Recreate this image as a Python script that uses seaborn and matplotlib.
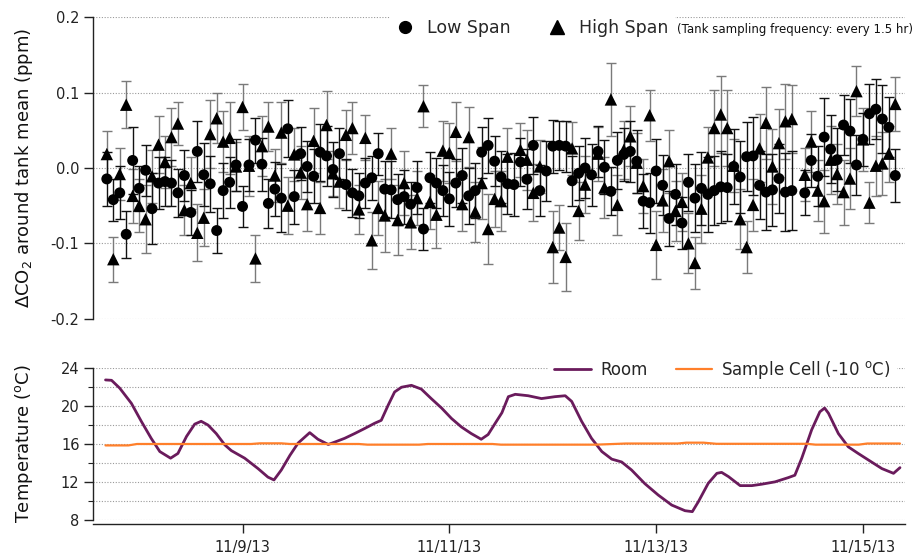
import numpy as np
import pandas as pd
import matplotlib
matplotlib.use("Agg")
import matplotlib.pyplot as plt
import matplotlib.dates as mdates
from matplotlib.lines import Line2D
from matplotlib.ticker import MultipleLocator
import seaborn as sns

nan = np.nan

# ---------------- data ----------------
start_time = "2013-11-07 16:30"   # first tank sample
sample_step = "90min"             # every 1.5 hr

low_span = [
    -0.0145, -0.042, -0.033, -0.088, 0.010, -0.027, -0.003, -0.054, -0.020, -0.018,
    -0.020, -0.033, -0.010, -0.059, 0.022, -0.009, -0.021, -0.083, -0.030, -0.019,
    0.004, -0.051, 0.004, 0.037, 0.005, -0.047, -0.028, -0.040, 0.052, -0.038,
    0.019, 0.002, -0.011, 0.021, 0.016, -0.002, 0.019, -0.022, -0.033, -0.037,
    -0.020, -0.013, 0.019, -0.028, -0.029, -0.042, -0.038, -0.048, -0.026, -0.081,
    -0.013, -0.020, -0.030, -0.041, -0.020, -0.010, -0.037, -0.030, 0.021, 0.030,
    0.009, -0.012, -0.021, -0.022, 0.008, -0.015, 0.030, -0.030, -0.004, 0.029,
    0.030, 0.029, -0.017, -0.007, 0.000, -0.009, 0.022, 0.001, -0.031, 0.010,
    0.018, 0.022, 0.009, -0.044, -0.046, -0.004, -0.023, -0.067, -0.035, -0.073,
    -0.019, -0.040, -0.027, -0.035, -0.030, -0.025, -0.026, 0.002, -0.012, 0.015,
    0.016, -0.023, -0.032, -0.029, -0.014, -0.032, -0.030, nan, -0.033, 0.010,
    -0.011, 0.041, 0.025, 0.011, 0.057, 0.049, 0.004, 0.038, 0.072, 0.078,
    0.065, 0.054, -0.010,
]
high_span = [
    0.0185, -0.121, -0.008, 0.084, -0.037, -0.050, -0.068, -0.011, 0.031, 0.008,
    0.041, 0.059, -0.056, -0.020, -0.086, -0.066, 0.045, 0.066, 0.035, 0.040,
    0.002, 0.081, 0.003, -0.120, 0.029, 0.055, -0.010, 0.047, -0.050, 0.018,
    -0.006, -0.048, 0.036, -0.053, 0.057, -0.007, -0.018, 0.044, 0.053, -0.055,
    0.040, -0.096, -0.053, -0.063, 0.019, -0.069, -0.020, -0.072, -0.040, 0.082,
    -0.045, -0.062, 0.023, 0.020, 0.048, -0.048, 0.041, -0.058, -0.020, -0.081,
    -0.041, -0.044, 0.015, nan, 0.024, 0.011, -0.033, 0.002, nan, -0.105,
    -0.079, -0.118, 0.026, -0.057, -0.022, nan, 0.019, -0.026, 0.091, -0.049,
    0.024, 0.042, 0.007, -0.024, 0.070, -0.102, -0.043, 0.009, -0.057, -0.045,
    -0.100, -0.126, -0.054, 0.014, 0.053, 0.071, 0.053, 0.003, -0.068, -0.105,
    -0.049, 0.026, 0.060, 0.002, 0.033, 0.062, 0.065, nan, -0.009, 0.035,
    -0.030, -0.044, 0.011, -0.008, -0.032, -0.014, 0.102, 0.038, -0.046, 0.003,
    0.006, 0.019, 0.085,
]
low_err = [
    0.036, 0.028, 0.035, 0.031, 0.044, 0.030, 0.034, 0.047, 0.035, 0.033, 0.030,
    0.032, 0.034, 0.030, 0.040, 0.042, 0.037, 0.030, 0.036, 0.034, 0.035,
    0.027, 0.035, 0.030, 0.035, 0.032, 0.036, 0.045, 0.038, 0.036, 0.035,
    0.034, 0.036, 0.038, 0.040, 0.037, 0.034, 0.034, 0.032, 0.030, 0.033,
    0.029, 0.028, 0.037, 0.038, 0.034, 0.036, 0.030, 0.035, 0.028, 0.034,
    0.033, 0.034, 0.036, 0.032, 0.036, 0.037, 0.036, 0.034, 0.037, 0.033,
    0.035, 0.040, 0.042, 0.032, 0.040, 0.038, 0.034, 0.040, 0.035, 0.032,
    0.034, 0.033, 0.036, 0.040, 0.041, 0.034, 0.036, 0.032, 0.038, 0.035,
    0.040, 0.042, 0.036, 0.040, 0.042, 0.040, 0.036, 0.040, 0.035, 0.038,
    0.045, 0.048, 0.050, 0.046, 0.048, 0.045, 0.050, 0.048, 0.046, 0.052,
    0.045, 0.050, 0.048, 0.046, 0.052, 0.052, nan, 0.030, 0.035, 0.040,
    0.052, 0.045, 0.042, 0.040, 0.042, 0.040, 0.035, 0.040, 0.040, 0.045,
    0.040, 0.035,
]
high_err = [
    0.031, 0.030, 0.035, 0.031, 0.036, 0.035, 0.045, 0.035, 0.038, 0.035, 0.038,
    0.028, 0.033, 0.034, 0.038, 0.038, 0.045, 0.033, 0.040, 0.048, 0.032,
    0.031, 0.040, 0.031, 0.040, 0.033, 0.035, 0.040, 0.038, 0.035, 0.035,
    0.035, 0.043, 0.034, 0.045, 0.030, 0.035, 0.033, 0.035, 0.033, 0.030,
    0.038, 0.036, 0.048, 0.034, 0.046, 0.042, 0.036, 0.036, 0.028, 0.036,
    0.044, 0.040, 0.040, 0.039, 0.035, 0.040, 0.040, 0.048, 0.046, 0.037,
    0.040, 0.038, nan, 0.036, 0.040, 0.038, 0.035, nan, 0.048, 0.030,
    0.045, 0.035, 0.038, 0.038, nan, 0.036, 0.040, 0.049, 0.040, 0.038,
    0.040, 0.040, 0.036, 0.034, 0.045, 0.042, 0.042, 0.040, 0.038, 0.040,
    0.034, 0.045, 0.040, 0.050, 0.051, 0.050, 0.035, 0.040, 0.034, 0.035,
    0.045, 0.048, 0.050, 0.045, 0.050, 0.045, nan, 0.035, 0.040, 0.040,
    0.042, 0.045, 0.040, 0.043, 0.040, 0.033, 0.042, 0.027, 0.040, 0.042,
    0.037, 0.036,
]

# Temperature traces: hours after 2013-11-07 00:00
room_hours = [
    16.2, 17.6, 19.5, 22.2, 24.5, 26.8, 28.8, 31.3, 33.0, 35.0, 36.9, 38.4, 40.0,
    41.9, 43.9, 45.4, 48.5, 51.6, 53.9, 55.3, 57.0, 59.0, 60.9, 63.6, 65.5, 67.9,
    69.4, 71.7, 74.0, 76.4, 78.7, 80.2, 81.8, 83.3, 84.9, 87.2, 89.5, 91.8, 94.2,
    96.5, 98.8, 101.1, 103.4, 105.0, 106.8, 108.2, 109.7, 111.3, 114.3, 117.4,
    120.5, 122.9, 124.4, 126.7, 129.0, 131.4, 133.7, 136.0, 138.3, 141.4, 144.5,
    147.6, 150.7, 152.4, 153.8, 156.1, 158.1, 159.2, 160.8, 163.5, 166.2, 168.5,
    171.6, 174.7, 176.2, 177.8, 180.1, 182.0, 183.1, 184.0, 186.3, 188.6, 190.9,
    193.3, 196.4, 199.1, 200.6,
]
room_temp = [
    22.77, 22.73, 21.9, 20.3, 18.4, 16.6, 15.2, 14.5, 15.0, 16.8, 18.1, 18.4, 18.0,
    17.1, 15.9, 15.3, 14.5, 13.4, 12.5, 12.2, 13.25, 14.8, 16.1, 17.2, 16.5, 15.95,
    16.2, 16.6, 17.1, 17.65, 18.2, 18.5, 20.1, 21.5, 22.0, 22.2, 21.8, 20.8, 19.8,
    18.7, 17.8, 17.1, 16.5, 17.0, 18.3, 19.3, 21.0, 21.25, 21.1, 20.8,
    21.0, 21.1, 20.5, 18.4, 16.6, 15.2, 14.4, 14.1, 13.25, 11.8, 10.6,
    9.55, 8.95, 8.85, 9.9, 11.85, 12.9, 13.0, 12.55, 11.6, 11.6, 11.75,
    12.0, 12.45, 12.7, 14.5, 17.5, 19.4, 19.8, 19.25, 17.1, 15.7, 15.0,
    14.3, 13.4, 12.9, 13.5,
]
cell_hours = [16.2, 21.5, 23.5, 50.0, 52.0, 57.0, 59.0, 75.0, 77.0, 89.0, 91.0,
              106.0, 108.0, 130.0, 137.0, 149.0, 151.0, 155.0, 158.0, 179.0,
              181.0, 191.0, 193.0, 200.6]
cell_temp = [15.85, 15.85, 16.0, 16.0, 16.07, 16.07, 16.0, 16.0, 15.93, 15.93, 16.0,
             16.0, 15.93, 15.93, 16.05, 16.05, 16.14, 16.14, 16.02, 16.02,
             15.93, 15.93, 16.05, 16.05]

date_ticks = ["2013-11-09", "2013-11-11", "2013-11-13", "2013-11-15"]
temp_ticks = [8, 12, 16, 20, 24]
co2_ticks = [-0.2, -0.1, 0.0, 0.1, 0.2]

# ---------------- build frames ----------------
t0 = pd.Timestamp("2013-11-07")
times = pd.date_range(start_time, periods=len(low_span), freq=sample_step)
span_df = pd.DataFrame({"time": times, "low": low_span, "high": high_span,
                        "low_err": low_err, "high_err": high_err})
room_df = pd.DataFrame({"time": t0 + pd.to_timedelta(room_hours, unit="h"),
                        "temp": room_temp})
cell_df = pd.DataFrame({"time": t0 + pd.to_timedelta(cell_hours, unit="h"),
                        "temp": cell_temp})

# ---------------- style ----------------
sns.set_theme(style="ticks")
plt.rcParams["font.family"] = ["DejaVu Sans"]
plt.rcParams["axes.edgecolor"] = "#222222"
plt.rcParams["axes.linewidth"] = 1.0

fig = plt.figure(figsize=(9.15, 5.56), dpi=100)
ax1 = fig.add_axes([0.102, 0.4268, 0.8871, 0.5421])
ax2 = fig.add_axes([0.102, 0.0653, 0.8871, 0.2723])

xmin = t0 + pd.Timedelta(hours=13.37)
xmax = t0 + pd.Timedelta(hours=201.77)

grid_kw = dict(color="#9a9a9a", linestyle=(0, (1, 1.5)), linewidth=0.8)

# ---------------- top panel ----------------
ax1.errorbar(span_df["time"], span_df["high"], yerr=span_df["high_err"], fmt="none",
             ecolor="#7a7a7a", elinewidth=1.0, capsize=3.8, capthick=1.0, zorder=2)
ax1.errorbar(span_df["time"], span_df["low"], yerr=span_df["low_err"], fmt="none",
             ecolor="#111111", elinewidth=1.0, capsize=3.8, capthick=1.0, zorder=2)
sns.scatterplot(data=span_df, x="time", y="high", marker="^", s=80, color="black",
                edgecolor="none", ax=ax1, legend=False, zorder=3)
sns.scatterplot(data=span_df, x="time", y="low", marker="o", s=62, color="black",
                edgecolor="none", ax=ax1, legend=False, zorder=4)

ax1.set_xlim(xmin, xmax)
ax1.set_ylim(-0.2, 0.2)
ax1.set_yticks(co2_ticks)
ax1.set_yticklabels(["%.1f" % v for v in co2_ticks])
ax1.yaxis.grid(True, **grid_kw)
ax1.set_axisbelow(True)
for s in ["top", "right", "bottom"]:
    ax1.spines[s].set_visible(False)
ax1.tick_params(axis="x", bottom=False, labelbottom=False)
ax1.tick_params(axis="y", direction="out", length=6.5, width=1, labelsize=10.5, pad=3.5,
                colors="#222222")
ax1.set_xlabel("")
ax1.set_ylabel(r"$\Delta$CO$_2$ around tank mean (ppm)", fontsize=13, color="#111111")
ax1.yaxis.set_label_coords(-0.072, 0.5)

handles = [Line2D([], [], marker="o", color="black", linestyle="none", markersize=8.5),
           Line2D([], [], marker="^", color="black", linestyle="none", markersize=9.5)]
leg1 = ax1.legend(handles, ["Low Span", "High Span"], ncol=2, loc="center left",
                  bbox_to_anchor=(0.366, 0.9645), fontsize=12.5, frameon=True,
                  facecolor="white", edgecolor="none", framealpha=1, fancybox=False,
                  handlelength=1.0, handletextpad=0.75, columnspacing=2.2,
                  borderpad=0.35, borderaxespad=0)
ax1.text(0.7195, 0.958, "(Tank sampling frequency: every 1.5 hr)", transform=ax1.transAxes,
         fontsize=8.5, ha="left", va="center", color="#111111", clip_on=False, zorder=6)

# ---------------- bottom panel ----------------
sns.lineplot(data=room_df, x="time", y="temp", color="#6a1b5c", linewidth=2.0,
             estimator=None, ax=ax2, label="Room")
sns.lineplot(data=cell_df, x="time", y="temp", color="#ff7f2a", linewidth=1.6,
             estimator=None, ax=ax2, label="Sample Cell (-10 $^{\\mathregular{o}}$C)")

ax2.set_xlim(xmin, xmax)
ax2.set_ylim(8, 24)
ax2.set_yticks(temp_ticks)
ax2.yaxis.set_minor_locator(MultipleLocator(2))
ax2.yaxis.grid(True, which="both", **grid_kw)
ax2.set_axisbelow(True)
ax2.set_xticks(pd.to_datetime(date_ticks))
ax2.xaxis.set_major_formatter(mdates.DateFormatter("%-m/%-d/%y"))
for s in ["top", "right"]:
    ax2.spines[s].set_visible(False)
ax2.spines["bottom"].set_position(("outward", 3.3))
ax2.tick_params(axis="both", which="major", direction="out", length=6.5, width=1,
                labelsize=10.5, colors="#222222")
ax2.tick_params(axis="x", pad=5)
ax2.tick_params(axis="y", pad=3.5)
ax2.tick_params(axis="y", which="minor", direction="out", length=3.5, width=0.8,
                colors="#222222")
ax2.set_xlabel("")
ax2.set_ylabel("Temperature ($^{\\mathregular{o}}$C)", fontsize=13, color="#111111")
ax2.yaxis.set_label_coords(-0.072, 0.5)

leg2 = ax2.legend(ncol=2, loc="center left", bbox_to_anchor=(0.5605, 0.989),
                  fontsize=12, frameon=True, facecolor="white", edgecolor="none",
                  framealpha=1, fancybox=False, handlelength=2.2, handletextpad=0.55,
                  columnspacing=1.7, borderpad=0.35, borderaxespad=0)

fig.savefig("out.png", dpi=100)
